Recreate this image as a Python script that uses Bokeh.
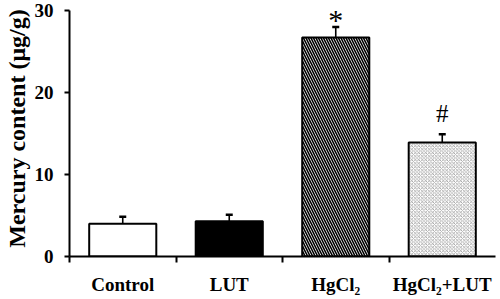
from bokeh.plotting import figure
from bokeh.models import ColumnDataSource, Range1d, FixedTicker, Whisker, TeeHead
from bokeh.core.properties import value
from bokeh.embed import file_html
from bokeh.resources import INLINE

categories = ["Control", "LUT", "HgCl\u2082", "HgCl\u2082+LUT"]
means = [4.0, 4.3, 26.7, 13.9]
errors = [0.85, 0.8, 1.3, 1.0]
marks = ["", "", "*", "#"]
y_ticks = [0, 10, 20, 30]

fills = ["white", "black", "white", "white"]

xs = [i + 0.5 for i in range(len(categories))]
tops = [m + e for m, e in zip(means, errors)]

src = ColumnDataSource(dict(x=xs, top=means, upper=tops))

p = figure(width=500, height=299, output_backend="svg", toolbar_location=None,
           x_range=Range1d(0, len(categories)), y_range=Range1d(0, 31.22),
           min_border_left=67, min_border_right=5, min_border_top=0, min_border_bottom=43)
p.outline_line_color = None
p.xgrid.grid_line_color = None
p.ygrid.grid_line_color = None
p.background_fill_color = "white"
p.border_fill_color = "white"

# plain bars
p.vbar(x=xs[:2], top=means[:2], width=0.63,
       fill_color=fills[:2], line_color="black", line_width=2)
# diagonal-line hatched bar
p.vbar(x=[xs[2]], top=[means[2]], width=0.63, fill_color="white", line_color="black",
       line_width=2, hatch_pattern="left_diagonal_line", hatch_color="black",
       hatch_scale=5, hatch_weight=1.6)
# fine cross-hatched bar
p.vbar(x=[xs[3]], top=[means[3]], width=0.63, fill_color="white", line_color="black",
       line_width=2, hatch_pattern="diagonal_cross", hatch_color="#8a8a8a",
       hatch_scale=3.5, hatch_weight=0.7)

w = Whisker(source=src, base="x", upper="upper", lower="top", dimension="height",
            line_color="black", line_width=1.6,
            upper_head=TeeHead(size=7, line_width=2.5, line_color="black"), lower_head=None)
p.add_layout(w)

p.text(x=[xs[2]], y=[tops[2]], text=[marks[2]], text_align="center",
       text_baseline="alphabetic", text_font=value("Liberation Serif"),
       text_font_size="30px", y_offset=-7, text_color="black")
p.text(x=[xs[3]], y=[tops[3]], text=[marks[3]], text_align="center",
       text_baseline="alphabetic", text_font=value("Liberation Serif"),
       text_font_size="25px", y_offset=-21, text_color="black")

# axes
p.yaxis.ticker = FixedTicker(ticks=y_ticks)
p.yaxis.bounds = (0, 30)
p.yaxis.axis_label = "Mercury content (\u03bcg/g)"
p.yaxis.axis_label_text_font = "Liberation Serif"
p.yaxis.axis_label_text_font_style = "bold"
p.yaxis.axis_label_text_font_size = "24px"
p.yaxis.axis_label_text_color = "black"
p.yaxis.axis_label_standoff = 2
p.yaxis.major_tick_out = 5
p.yaxis.major_tick_in = 0
p.yaxis.minor_tick_line_color = None
p.yaxis.major_label_standoff = 11

p.xaxis.ticker = FixedTicker(ticks=xs, minor_ticks=list(range(len(categories))))
p.xaxis.major_label_overrides = {x: c for x, c in zip(xs, categories)}
p.xaxis.major_tick_line_color = None
p.xaxis.major_tick_out = 0
p.xaxis.major_tick_in = 0
p.xaxis.minor_tick_out = 6
p.xaxis.minor_tick_in = 0
p.xaxis.minor_tick_line_width = 2
p.xaxis.minor_tick_line_color = "black"
p.xaxis.major_label_standoff = 11

for ax in (p.xaxis, p.yaxis):
    ax.axis_line_width = 2
    ax.axis_line_color = "black"
    ax.major_tick_line_width = 2
    ax.major_label_text_font = "Liberation Serif"
    ax.major_label_text_font_style = "bold"
    ax.major_label_text_color = "black"
p.yaxis.major_label_text_font_size = "19px"
p.xaxis.major_label_text_font_size = "19px"

open("out.html", "w").write(file_html(p, INLINE))
